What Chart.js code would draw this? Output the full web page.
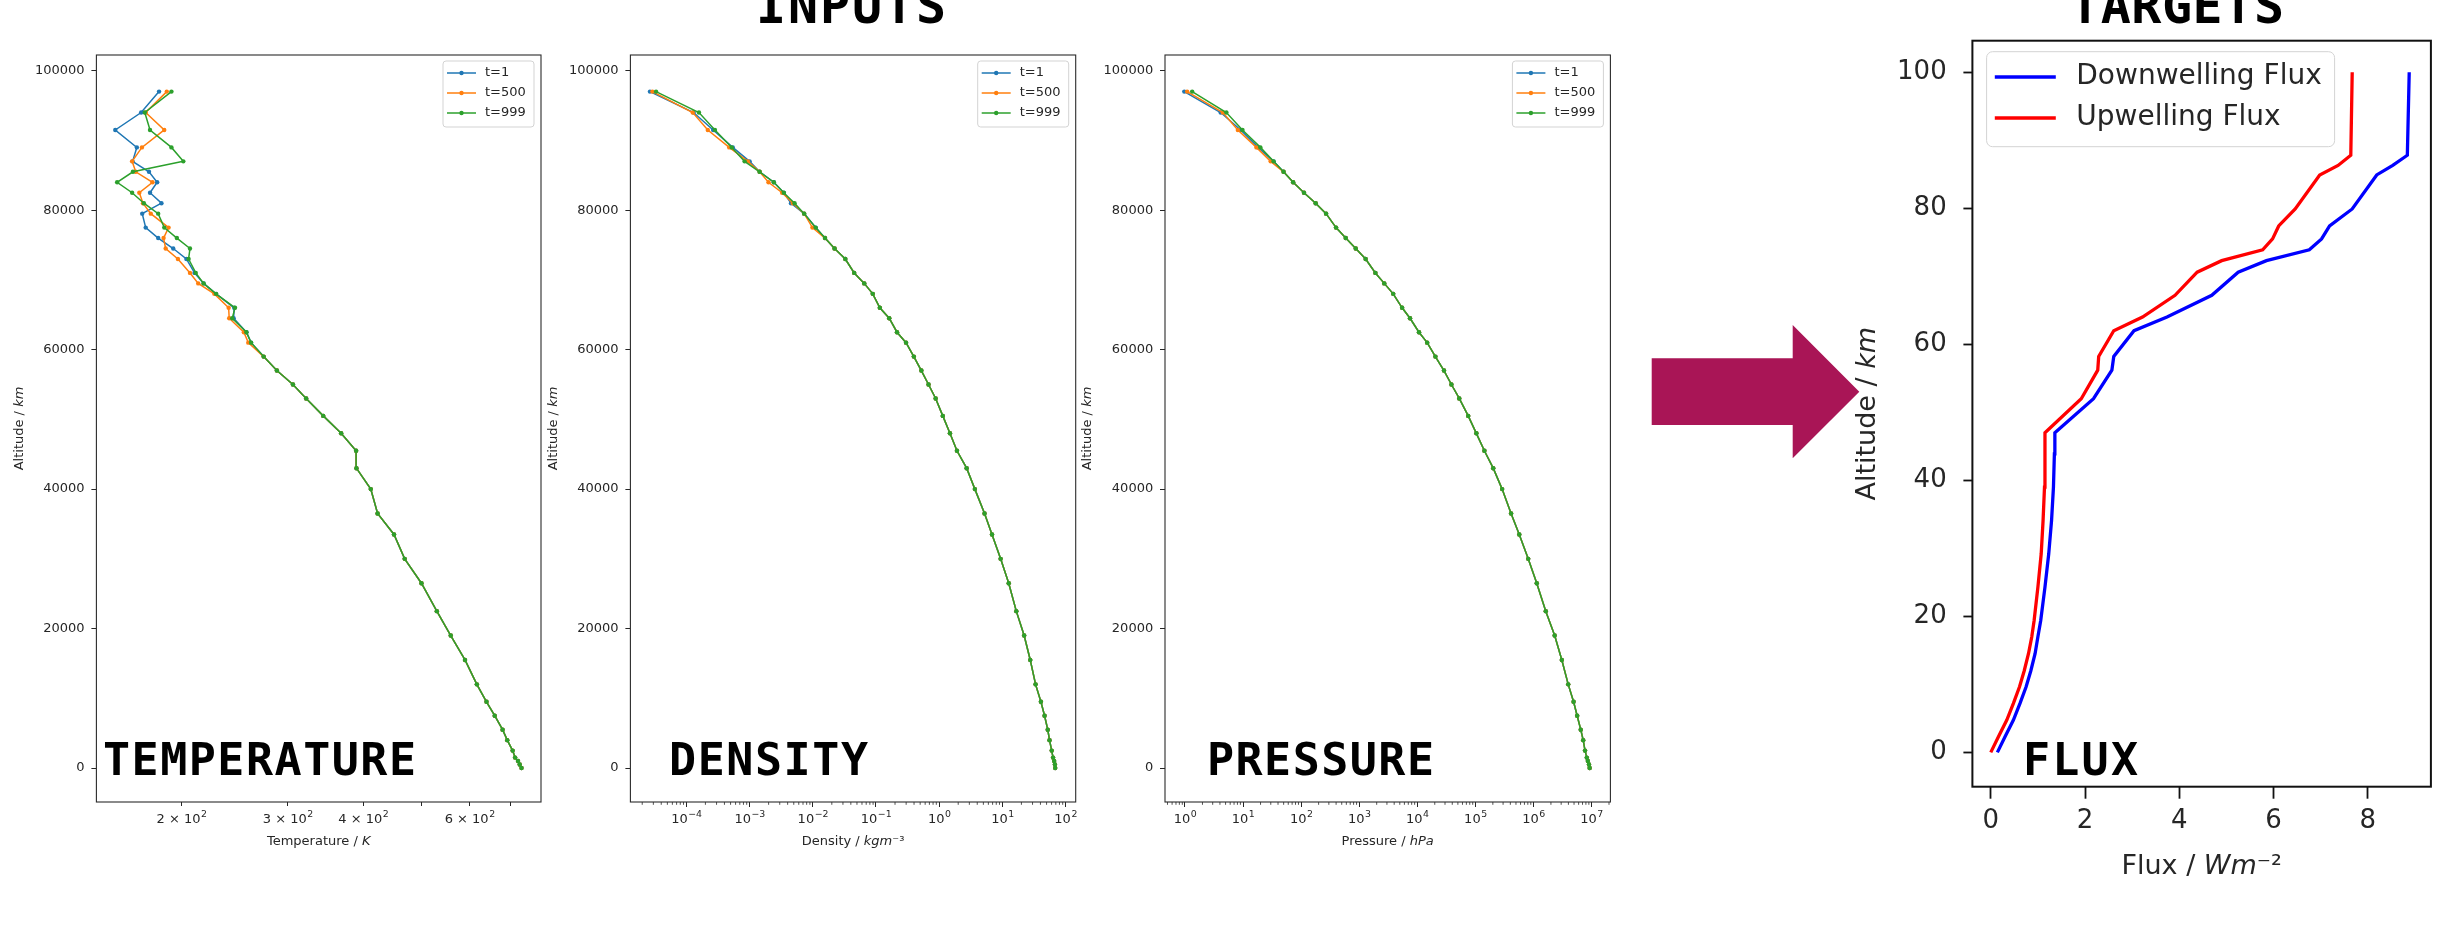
<!DOCTYPE html>
<html><head><meta charset="utf-8">
<script src="https://cdn.jsdelivr.net/npm/chart.js@4.4.1/dist/chart.umd.min.js"></script>
<style>
html,body{margin:0;padding:0;background:#fff;}
body{width:2439px;height:937px;position:relative;overflow:hidden;}
canvas{position:absolute;}
#overlay{position:absolute;left:0;top:0;pointer-events:none;}
</style></head><body>
<canvas id="cTemp" width="560" height="880" style="left:0px;top:0px;width:560px;height:880px"></canvas>
<canvas id="cDens" width="565" height="880" style="left:530px;top:0px;width:565px;height:880px"></canvas>
<canvas id="cPres" width="565" height="880" style="left:1065px;top:0px;width:565px;height:880px"></canvas>
<canvas id="cFlux" width="609" height="937" style="left:1830px;top:0px;width:609px;height:937px"></canvas>
<svg id="overlay" width="2439" height="937" viewBox="0 0 2439 937">
  <polygon points="1651.7,358.3 1792.7,358.3 1792.7,325 1859.3,391.7 1792.7,458.3 1792.7,425 1651.7,425" fill="#a91556"/>
  <g font-family="DejaVu Sans Mono" font-weight="bold" fill="#000">
    <text x="756" y="23" font-size="50" textLength="190" lengthAdjust="spacing">INPUTS</text>
    <text x="2070" y="23" font-size="50" textLength="214" lengthAdjust="spacing">TARGETS</text>
    <text x="103" y="775" font-size="45" textLength="313" lengthAdjust="spacing">TEMPERATURE</text>
    <text x="669" y="775" font-size="45" textLength="199" lengthAdjust="spacing">DENSITY</text>
    <text x="1207" y="775" font-size="45" textLength="227" lengthAdjust="spacing">PRESSURE</text>
    <text x="2023" y="775" font-size="45" textLength="115" lengthAdjust="spacing">FLUX</text>
  </g>
</svg>
<script>
// ---------------- DATA ----------------
const altitude = [0, 500, 1000, 1500, 2500, 4000, 5500, 7500, 9500, 12000, 15500, 19000, 22500, 26500, 30000, 33500, 36500, 40000, 43000, 45500, 48000, 50500, 53000, 55000, 57000, 59000, 61000, 62500, 64500, 66000, 68000, 69500, 71000, 73000, 74500, 76000, 77500, 79500, 81000, 82500, 84000, 85500, 87000, 89000, 91500, 94000, 97000];

const tempT1   = [731.2, 726.2, 721.5, 713.6, 706.9, 692.5, 680.3, 660.2, 639.8, 616.7, 589.5, 558.3, 529.4, 499.3, 468.4, 449.7, 422.4, 411.6, 389.7, 389.2, 367.6, 343.4, 321.7, 305.9, 287.7, 273.6, 260.8, 256.2, 244.0, 244.5, 228.2, 217.6, 210.2, 203.8, 193.8, 183.0, 174.5, 172.2, 185.3, 177.4, 182.3, 176.7, 166.0, 168.7, 155.4, 171.5, 183.6];
const tempT500 = [731.2, 726.2, 721.5, 713.6, 706.9, 692.5, 680.3, 660.2, 639.8, 616.7, 589.5, 558.3, 529.4, 499.3, 468.4, 449.7, 422.4, 411.6, 389.7, 389.2, 367.6, 343.4, 321.7, 305.9, 287.7, 273.6, 258.0, 253.7, 239.9, 239.4, 226.7, 213.2, 206.6, 197.3, 188.3, 186.8, 190.4, 177.9, 172.7, 170.3, 179.1, 168.0, 165.7, 172.0, 187.3, 174.5, 189.1];
const tempT999 = [731.2, 726.2, 721.5, 713.6, 706.9, 692.5, 680.3, 660.2, 639.8, 616.7, 589.5, 558.3, 529.4, 499.3, 468.4, 449.7, 422.4, 411.6, 389.7, 389.2, 367.6, 343.4, 321.7, 305.9, 287.7, 273.6, 260.8, 256.2, 242.7, 245.3, 228.2, 217.6, 211.2, 205.5, 206.6, 196.5, 187.3, 183.0, 173.3, 165.7, 156.5, 166.2, 201.4, 192.5, 177.4, 173.9, 192.5];

const densT1   = [68.5, 67.8, 65.9, 63.4, 60.3, 55.7, 52.2, 46.5, 40.7, 33.5, 27.6, 22.1, 16.6, 12.6, 9.38, 6.85, 5.22, 3.67, 2.72, 1.91, 1.48, 1.14, 0.879, 0.678, 0.522, 0.397, 0.299, 0.215, 0.162, 0.115, 0.0889, 0.0652, 0.0452, 0.0327, 0.0221, 0.0156, 0.0111, 0.00731, 0.00452, 0.00348, 0.00242, 0.00144, 0.00100, 0.000542, 0.000265, 0.000130, 0.0000265];
const densT500 = [68.5, 67.8, 65.9, 63.4, 60.3, 55.7, 52.2, 46.5, 40.7, 33.5, 27.6, 22.1, 16.6, 12.6, 9.38, 6.85, 5.22, 3.67, 2.72, 1.91, 1.48, 1.14, 0.879, 0.678, 0.522, 0.397, 0.299, 0.215, 0.162, 0.115, 0.0889, 0.0652, 0.0452, 0.0327, 0.0221, 0.0156, 0.00986, 0.00731, 0.00483, 0.00327, 0.00199, 0.00144, 0.000938, 0.000476, 0.000218, 0.000126, 0.0000290];
const densT999 = [68.5, 67.8, 65.9, 63.4, 60.3, 55.7, 52.2, 46.5, 40.7, 33.5, 27.6, 22.1, 16.6, 12.6, 9.38, 6.85, 5.22, 3.67, 2.72, 1.91, 1.48, 1.14, 0.879, 0.678, 0.522, 0.397, 0.299, 0.215, 0.162, 0.115, 0.0889, 0.0652, 0.0452, 0.0327, 0.0221, 0.0156, 0.0111, 0.00731, 0.00515, 0.00348, 0.00242, 0.00144, 0.000834, 0.000522, 0.000283, 0.000158, 0.0000331];

const presT1   = [9.29e6, 9.04e6, 8.65e6, 8.30e6, 7.73e6, 7.19e6, 6.52e6, 5.66e6, 4.91e6, 3.97e6, 3.08e6, 2.32e6, 1.63e6, 1.14e6, 8.13e5, 5.70e5, 4.12e5, 2.89e5, 2.03e5, 1.43e5, 1.04e5, 7.53e4, 5.28e4, 3.87e4, 2.88e4, 2.05e4, 1.48e4, 1.07e4, 7.50e3, 5.48e3, 3.85e3, 2.70e3, 1.90e3, 1.29e3, 871, 586, 399, 269, 178, 112, 72.9, 49.8, 33.5, 18.2, 9.10, 4.12, 0.973];
const presT500 = [9.29e6, 9.04e6, 8.65e6, 8.30e6, 7.73e6, 7.19e6, 6.52e6, 5.66e6, 4.91e6, 3.97e6, 3.08e6, 2.32e6, 1.63e6, 1.14e6, 8.13e5, 5.70e5, 4.12e5, 2.89e5, 2.03e5, 1.43e5, 1.04e5, 7.53e4, 5.28e4, 3.87e4, 2.88e4, 2.05e4, 1.48e4, 1.07e4, 7.50e3, 5.48e3, 3.85e3, 2.70e3, 1.90e3, 1.29e3, 871, 586, 399, 269, 178, 112, 72.9, 49.8, 29.9, 17.0, 8.13, 4.49, 1.09];
const presT999 = [9.29e6, 9.04e6, 8.65e6, 8.30e6, 7.73e6, 7.19e6, 6.52e6, 5.66e6, 4.91e6, 3.97e6, 3.08e6, 2.32e6, 1.63e6, 1.14e6, 8.13e5, 5.70e5, 4.12e5, 2.89e5, 2.03e5, 1.43e5, 1.04e5, 7.53e4, 5.28e4, 3.87e4, 2.88e4, 2.05e4, 1.48e4, 1.07e4, 7.50e3, 5.48e3, 3.85e3, 2.70e3, 1.90e3, 1.29e3, 871, 586, 399, 269, 178, 112, 72.9, 49.8, 33.5, 19.9, 9.77, 5.16, 1.33];

const seriesLabels = ['t=1', 't=500', 't=999'];
const seriesColors = ['#1f77b4', '#ff7f0e', '#2ca02c'];

const altTicks = [0, 20000, 40000, 60000, 80000, 100000];
const altTickLabels = ['0', '20000', '40000', '60000', '80000', '100000'];
const tempTicks = [200, 300, 400, 500, 600, 700];
const tempTickLabels = [['2 × 10', '2'], ['3 × 10', '2'], ['4 × 10', '2'], ['', ''], ['6 × 10', '2'], ['', '']];
const densTicks = [1e-4, 1e-3, 1e-2, 1e-1, 1, 10, 100];
const densTickLabels = [['10', '−4'], ['10', '−3'], ['10', '−2'], ['10', '−1'], ['10', '0'], ['10', '1'], ['10', '2']];
const presTicks = [1, 10, 100, 1e3, 1e4, 1e5, 1e6, 1e7];
const presTickLabels = [['10', '0'], ['10', '1'], ['10', '2'], ['10', '3'], ['10', '4'], ['10', '5'], ['10', '6'], ['10', '7']];

const fluxAlt  = [0, 2.4, 4.75, 7.2, 9.64, 12, 14.5, 17, 19.4, 24.3, 29.2, 34.1, 39, 43.9, 47, 52, 56.2, 58.2, 62, 64, 67.2, 70.6, 72.3, 73.9, 75.5, 77.4, 79.9, 84.9, 86.3, 87.8, 100];
const fluxDown = [0.14, 0.31, 0.48, 0.62, 0.75, 0.85, 0.94, 1.00, 1.06, 1.15, 1.23, 1.29, 1.33, 1.35, 1.36, 2.18, 2.57, 2.61, 3.04, 3.74, 4.69, 5.25, 5.85, 6.76, 7.02, 7.19, 7.67, 8.19, 8.53, 8.84, 8.88];
const fluxUp   = [0.00, 0.17, 0.34, 0.48, 0.61, 0.71, 0.80, 0.87, 0.92, 1.00, 1.07, 1.11, 1.14, 1.15, 1.15, 1.92, 2.27, 2.29, 2.61, 3.22, 3.91, 4.38, 4.90, 5.77, 5.98, 6.11, 6.46, 6.98, 7.37, 7.64, 7.67];
const fluxLabels = ['Downwelling Flux', 'Upwelling Flux'];
const fluxColors = ['#0000ff', '#ff0000'];
const fluxXTicks = [0, 2, 4, 6, 8];
const fluxXTickLabels = ['0', '2', '4', '6', '8'];
const fluxYTicks = [0, 20, 40, 60, 80, 100];
const fluxYTickLabels = ['0', '20', '40', '60', '80', '100'];

// ---------------- helpers ----------------
const TXT = '#262626';
Chart.defaults.font.family = '"DejaVu Sans"';
Chart.defaults.color = TXT;

function minorLog(e0, e1) {
  const out = [];
  for (let e = e0; e <= e1; e++) for (let m = 2; m <= 9; m++) out.push(m * Math.pow(10, e));
  return out;
}

function drawRich(ctx, segs, cx, cy, rot, size) {
  ctx.save();
  ctx.translate(cx, cy); ctx.rotate(rot);
  ctx.textBaseline = 'middle'; ctx.textAlign = 'left'; ctx.fillStyle = TXT;
  const fonts = segs.map(s => (s[1] ? 'italic ' : '') + size + 'px "DejaVu Sans"');
  let w = 0;
  const ws = segs.map((s, i) => { ctx.font = fonts[i]; const m = ctx.measureText(s[0]).width; w += m; return m; });
  let x = -w / 2;
  segs.forEach((s, i) => { ctx.font = fonts[i]; ctx.fillText(s[0], x, 0); x += ws[i]; });
  ctx.restore();
}

function rrect(ctx, x, y, w, h, r) {
  ctx.beginPath();
  ctx.moveTo(x + r, y); ctx.lineTo(x + w - r, y); ctx.arcTo(x + w, y, x + w, y + r, r);
  ctx.lineTo(x + w, y + h - r); ctx.arcTo(x + w, y + h, x + w - r, y + h, r);
  ctx.lineTo(x + r, y + h); ctx.arcTo(x, y + h, x, y + h - r, r);
  ctx.lineTo(x, y + r); ctx.arcTo(x, y, x + r, y, r);
  ctx.closePath();
}

function decor(cfg) {
  return {
    id: 'decor',
    afterDraw(chart) {
      const ctx = chart.ctx, a = chart.chartArea, sx = chart.scales.x;
      ctx.save();
      if (cfg.minor) {
        ctx.strokeStyle = TXT; ctx.lineWidth = 0.8; ctx.beginPath();
        cfg.minor.forEach(v => {
          const px = sx.getPixelForValue(v);
          if (px >= a.left - 0.5 && px <= a.right + 0.5) { ctx.moveTo(px, a.bottom); ctx.lineTo(px, a.bottom + 2.8); }
        });
        ctx.stroke();
      }
      if (cfg.richLabels) {
        // base + superscript exponent, centred on each tick of the x scale
        const baseFont = cfg.tickSize + 'px "DejaVu Sans"';
        const expFont = (cfg.tickSize * 0.72).toFixed(1) + 'px "DejaVu Sans"';
        const yb = a.bottom + cfg.richBase;
        ctx.fillStyle = TXT; ctx.textBaseline = 'alphabetic'; ctx.textAlign = 'left';
        cfg.xTicks.forEach((v, i) => {
          const lab = cfg.richLabels[i];
          if (!lab[0]) return;
          ctx.font = baseFont; const wb = ctx.measureText(lab[0]).width;
          ctx.font = expFont; const we = ctx.measureText(lab[1]).width;
          const x0 = sx.getPixelForValue(v) - (wb + we) / 2;
          ctx.font = baseFont; ctx.fillText(lab[0], x0, yb);
          ctx.font = expFont; ctx.fillText(lab[1], x0 + wb + 0.5, yb - cfg.tickSize * 0.42);
        });
      }
      ctx.strokeStyle = cfg.frameColor; ctx.lineWidth = cfg.frameWidth;
      ctx.strokeRect(a.left, a.top, a.right - a.left, a.bottom - a.top);
      drawRich(ctx, cfg.xTitle, (a.left + a.right) / 2, a.bottom + cfg.xTitleOff, 0, cfg.titleSize);
      drawRich(ctx, cfg.yTitle, a.left - cfg.yTitleOff, (a.top + a.bottom) / 2, -Math.PI / 2, cfg.titleSize);
      const L = cfg.legend;
      const x0 = L.fromRight ? a.right - L.dx - L.w : a.left + L.dx;
      const y0 = a.top + L.dy;
      rrect(ctx, x0, y0, L.w, L.h, L.r);
      ctx.fillStyle = 'rgba(255,255,255,0.8)'; ctx.fill();
      ctx.strokeStyle = '#d3d3d3'; ctx.lineWidth = 1; ctx.stroke();
      chart.data.datasets.forEach((ds, i) => {
        const y = y0 + L.first + i * L.gap;
        ctx.strokeStyle = ds.borderColor; ctx.lineWidth = ds.borderWidth;
        ctx.beginPath(); ctx.moveTo(x0 + L.sx, y); ctx.lineTo(x0 + L.sx + L.slen, y); ctx.stroke();
        if (L.marker) {
          ctx.fillStyle = ds.borderColor; ctx.beginPath();
          ctx.arc(x0 + L.sx + L.slen / 2, y, ds.pointRadius, 0, 2 * Math.PI); ctx.fill();
        }
        ctx.fillStyle = TXT; ctx.font = L.size + 'px "DejaVu Sans"';
        ctx.textBaseline = 'middle'; ctx.textAlign = 'left';
        ctx.fillText(ds.label, x0 + L.tx, y);
      });
      ctx.restore();
    }
  };
}

function makeChart(id, cfg) {
  return new Chart(document.getElementById(id), {
    type: 'scatter',
    data: { datasets: cfg.datasets },
    options: {
      responsive: false, animation: false, devicePixelRatio: 1, events: [],
      layout: { padding: { left: 0, top: cfg.padTop, right: cfg.padRight, bottom: 0 } },
      plugins: { legend: { display: false }, tooltip: { enabled: false } },
      scales: {
        x: {
          type: cfg.xType, min: cfg.xMin, max: cfg.xMax, bounds: 'data', position: 'bottom',
          afterBuildTicks: s => { s.ticks = cfg.xTicks.map(v => ({ value: v })); },
          afterFit: s => { s.height = cfg.xHeight; s.paddingLeft = 0; s.paddingRight = 0; },
          ticks: { autoSkip: false, maxRotation: 0, minRotation: 0, padding: cfg.xPad, color: TXT,
                   font: { size: cfg.tickSize },
                   callback: (v, i) => cfg.richLabels ? '' : cfg.xLabels[i] },
          grid: { display: true, drawOnChartArea: false, drawTicks: true, tickLength: cfg.xTickLen,
                  tickColor: cfg.tickColor, tickWidth: cfg.tickWidth },
          border: { display: false }
        },
        y: {
          type: 'linear', min: cfg.yMin, max: cfg.yMax, bounds: 'data', position: 'left',
          afterBuildTicks: s => { s.ticks = cfg.yTicks.map(v => ({ value: v })); },
          afterFit: s => { s.width = cfg.yWidth; s.paddingTop = 0; s.paddingBottom = 0; },
          ticks: { autoSkip: false, padding: cfg.yPad, color: TXT,
                   font: { size: cfg.tickSize }, callback: (v, i) => cfg.yLabels[i] },
          grid: { display: true, drawOnChartArea: false, drawTicks: true, tickLength: cfg.yTickLen,
                  tickColor: cfg.tickColor, tickWidth: cfg.tickWidth },
          border: { display: false }
        }
      }
    },
    plugins: [decor(cfg)]
  });
}

function inputDatasets(series) {
  return series.map((vals, k) => ({
    label: seriesLabels[k],
    data: altitude.map((a, i) => ({ x: vals[i], y: a })),
    showLine: true, tension: 0,
    borderColor: seriesColors[k], backgroundColor: seriesColors[k],
    pointBackgroundColor: seriesColors[k], pointBorderColor: seriesColors[k],
    pointRadius: 2.2, pointBorderWidth: 0, pointHoverRadius: 2.2, borderWidth: 1.5,
    order: 2 - k
  }));
}

const inputLegend = { fromRight: true, dx: 7, dy: 6, w: 91, h: 66, r: 3, first: 12, gap: 20,
                      sx: 4, slen: 29, tx: 42, size: 13, marker: true };
const altTitle = [['Altitude / ', false], ['km', true]];

function inputCfg(extra) {
  return Object.assign({
    padTop: 55, xHeight: 78, yMin: -4870, yMax: 102250,
    yTicks: altTicks, yLabels: altTickLabels, xType: 'logarithmic',
    tickSize: 13, xPad: 3.2, yPad: 6.8, xTickLen: 5, yTickLen: 5, tickColor: TXT, tickWidth: 1,
    richBase: 20.7,
    frameColor: '#2b2b2b', frameWidth: 1.1, titleSize: 13, xTitleOff: 39.5, yTitleOff: 77,
    yTitle: altTitle, legend: inputLegend
  }, extra);
}

makeChart('cTemp', inputCfg({
  datasets: inputDatasets([tempT1, tempT500, tempT999]),
  padRight: 19, yWidth: 96.4, xMin: 144.6, xMax: 787.6,
  xTicks: tempTicks, richLabels: tempTickLabels, xTickLen: 4,
  xTitle: [['Temperature / ', false], ['K', true]]
}));

makeChart('cDens', inputCfg({
  datasets: inputDatasets([densT1, densT500, densT999]),
  padRight: 19.3, yWidth: 100.4, xMin: Math.pow(10, -4.886), xMax: Math.pow(10, 2.160),
  xTicks: densTicks, richLabels: densTickLabels, minor: minorLog(-5, 2),
  xTitle: [['Density / ', false], ['kgm', true], ['⁻³', false]]
}));

makeChart('cPres', inputCfg({
  datasets: inputDatasets([presT1, presT500, presT999]),
  padRight: 19.6, yWidth: 100, xMin: Math.pow(10, -0.344), xMax: Math.pow(10, 7.325),
  xTicks: presTicks, richLabels: presTickLabels, minor: minorLog(-1, 7),
  xTitle: [['Pressure / ', false], ['hPa', true]]
}));

makeChart('cFlux', {
  datasets: [fluxDown, fluxUp].map((vals, k) => ({
    label: fluxLabels[k],
    data: fluxAlt.map((a, i) => ({ x: vals[i], y: a })),
    showLine: true, tension: 0, borderColor: fluxColors[k], backgroundColor: fluxColors[k],
    pointRadius: 0, pointHoverRadius: 0, borderWidth: 3.3, order: 1 - k
  })),
  padTop: 40.7, padRight: 8.1, xHeight: 150.3, yWidth: 142.4,
  xType: 'linear', xMin: -0.39, xMax: 9.34, yMin: -5.05, yMax: 104.64,
  xTicks: fluxXTicks, xLabels: fluxXTickLabels, yTicks: fluxYTicks, yLabels: fluxYTickLabels,
  tickSize: 26, xPad: 7.4, yPad: 16.7, xTickLen: 12, yTickLen: 9, tickColor: '#111', tickWidth: 1.8,
  frameColor: '#111', frameWidth: 2, titleSize: 27, xTitleOff: 80, yTitleOff: 104.4,
  xTitle: [['Flux / ', false], ['Wm', true], ['⁻²', false]],
  yTitle: altTitle,
  legend: { fromRight: false, dx: 14.2, dy: 11, w: 348, h: 95, r: 6, first: 25.3, gap: 41,
            sx: 8.2, slen: 61, tx: 89.7, size: 28, marker: false }
});
</script>
</body></html>
